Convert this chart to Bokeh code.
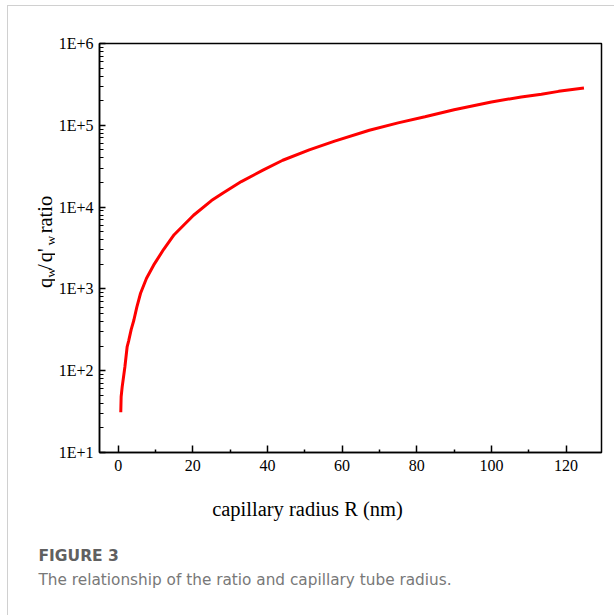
import math
from bokeh.plotting import figure
from bokeh.layouts import column, row
from bokeh.models import (Range1d, FixedTicker, CustomJSTickFormatter,
                          ColumnDataSource)
from bokeh.core.properties import value
from bokeh.embed import file_html
from bokeh.resources import INLINE

# ---- data ----
R_nm = [0.7, 0.8, 1.07, 1.8, 2.4, 2.8, 3.5, 4.2, 5.0, 6.0, 7.6, 9.5, 12.2, 15.0,
        20.2, 25.0, 28.1, 33.0, 38.8, 44.1, 51.2, 58.0, 67.3, 75.0, 82.2, 90.0,
        100.0, 108.0, 113.4, 118.0, 124.8]
ratio = [31, 48, 63, 111, 195, 230, 320, 414, 600, 885, 1350, 1950, 3050, 4600,
         7950, 12000, 14900, 20500, 28300, 37400, 50000, 64000, 87000, 107000,
         127000, 155000, 193000, 222000, 240000, 260000, 286000]
x_ticks = [0, 20, 40, 60, 80, 100, 120]
x_minor = [10, 30, 50, 70, 90, 110]
y_ticks = [1e1, 1e2, 1e3, 1e4, 1e5, 1e6]
y_tick_labels = ["1E+1", "1E+2", "1E+3", "1E+4", "1E+5", "1E+6"]
x_label = "capillary radius R (nm)"
y_label_parts = ["q", "w", "/", "q'", "w", "ratio"]
caption_head = "FIGURE 3"
caption_text = "The relationship of the ratio and capillary tube radius."

SERIF = "Liberation Serif"

# page geometry (content starts at page x=8, y=6 after margin + 1px border)
LW = 47                    # left label strip width
MW, MH = 606 - LW, 474     # main figure
CW, CH = 606, 135          # caption strip
ML, MR, MT, MB = 41, 13, 37, 28


def bare(width, height, xr, yr):
    f = figure(width=width, height=height, output_backend="svg",
               toolbar_location=None, x_range=Range1d(*xr), y_range=Range1d(*yr),
               x_axis_location=None, y_axis_location=None,
               min_border=0, min_border_left=0, min_border_right=0,
               min_border_top=0, min_border_bottom=0,
               background_fill_color="white", border_fill_color="white")
    f.outline_line_color = None
    f.xgrid.visible = False
    f.ygrid.visible = False
    return f


# ---------------- main chart ----------------
p = figure(width=MW, height=MH, output_backend="svg", toolbar_location=None,
           x_range=Range1d(-5, 129.5), y_range=Range1d(10, 1e6), y_axis_type="log",
           min_border_left=ML, min_border_right=MR, min_border_top=MT,
           min_border_bottom=MB, background_fill_color="white",
           border_fill_color="white")
p.xgrid.visible = False
p.ygrid.visible = False
p.outline_line_color = "black"
p.outline_line_width = 1.5
p.outline_line_alpha = 1

src = ColumnDataSource(dict(x=R_nm, y=ratio))
p.line("x", "y", source=src, line_color="#ff0000", line_width=3)

xa = p.xaxis[0]
xa.ticker = FixedTicker(ticks=x_ticks, minor_ticks=x_minor)
xa.axis_line_width = 1.5
xa.major_tick_in = 7
xa.major_tick_out = 0
xa.minor_tick_in = 3
xa.minor_tick_out = 0
xa.major_tick_line_width = 1.5
xa.minor_tick_line_width = 1.5
xa.major_label_text_font = SERIF
xa.major_label_text_font_size = "16px"
xa.major_label_text_color = "black"
xa.major_label_standoff = 7

minor_y = [m * 10 ** k for k in range(1, 6) for m in range(2, 10)]
ya = p.yaxis[0]
ya.ticker = FixedTicker(ticks=y_ticks, minor_ticks=minor_y)
ya.formatter = CustomJSTickFormatter(args=dict(labels=y_tick_labels, majors=y_ticks), code="""
    let best = 0, bd = 1e9;
    for (let i = 0; i < majors.length; i++) {
        const d = Math.abs(Math.log10(tick) - Math.log10(majors[i]));
        if (d < bd) { bd = d; best = i; }
    }
    return labels[best];
""")
ya.axis_line_width = 1.5
ya.major_tick_in = 6
ya.major_tick_out = 0
ya.minor_tick_in = 4
ya.minor_tick_out = 0
ya.major_tick_line_width = 1.5
ya.minor_tick_line_width = 1.2
ya.major_label_text_font = SERIF
ya.major_label_text_font_size = "16px"
ya.major_label_text_color = "black"
ya.major_label_standoff = 6

# ---------------- left strip: rotated y label with subscripts ----------------
# coordinates: x = page_x - 8, y = 480 - page_y
L = bare(LW, MH, (0, LW), (0, MH))
base_x, sub_x = 44.5, 50.0
ylab_px = [base_x, sub_x, base_x, base_x, sub_x, base_x]
ylab_py = [289.5, 277.5, 268.5, 259.5, 240.0, 226.0]
ylab_fs = ["20.5px", "13.5px", "20.5px", "20.5px", "13.5px", "20.5px"]
lsrc = ColumnDataSource(dict(x=[v - 8 for v in ylab_px],
                             y=[480 - v for v in ylab_py],
                             t=y_label_parts, fs=ylab_fs))
L.text(x="x", y="y", text="t", text_font_size="fs", source=lsrc,
       angle=math.pi / 2, text_font=value(SERIF), text_color="black",
       text_align="left", text_baseline="alphabetic")

# ---------------- caption strip ----------------
# coordinates: x = page_x - 8, y = 615 - page_y
C = bare(CW, CH, (0, CW), (0, CH))
C.text(x=[307 - 8], y=[615 - 508], text=[x_label], text_font=value(SERIF),
       text_font_size="20.5px", text_color="black", text_align="center",
       text_baseline="middle")
C.text(x=[38 - 8], y=[615 - 555], text=[caption_head], text_font=value("DejaVu Sans"),
       text_font_size="15.5px", text_font_style="bold", text_color="#606060",
       text_align="left", text_baseline="alphabetic")
C.text(x=[38 - 8], y=[615 - 579.5], text=[caption_text], text_font=value("DejaVu Sans"),
       text_font_size="15.3px", text_color="#787878",
       text_align="left", text_baseline="alphabetic")

layout = column(row(L, p, spacing=0), C, spacing=0)
layout.margin = (5, 0, 0, 7)
layout.styles = {"border-top": "1px solid #d0d0d0", "border-left": "1px solid #d0d0d0"}

open("out.html", "w").write(file_html(layout, INLINE))
